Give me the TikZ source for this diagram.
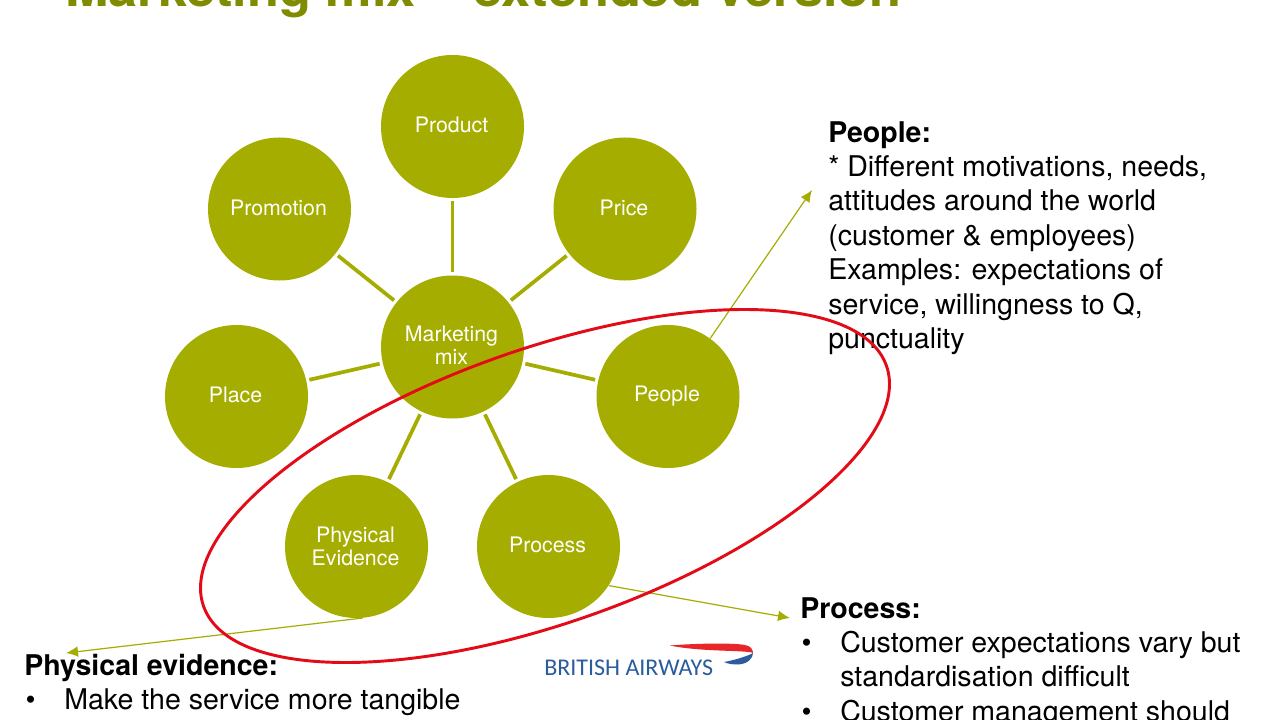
\documentclass[tikz,border=0pt]{standalone}
\usepackage{fontspec}
\setmainfont{TeX Gyre Heros}
\newfontfamily\logofont{Carlito}
\definecolor{olive}{HTML}{A5AE00}
\definecolor{titleolive}{HTML}{7F8C00}
\definecolor{ringred}{HTML}{E30B17}
\definecolor{logoblue}{HTML}{2B5C9E}
\definecolor{logored}{HTML}{E8262A}
\newcommand{\pxu}{pt*0.75}
\usetikzlibrary{arrows.meta}
\tikzset{
  mixnode/.style={circle,fill=olive,draw=none,minimum size=143\pxu,inner sep=0pt,
    text=white,align=center,font=\fontsize{16}{17.2}\selectfont},
  spoke/.style={draw=olive,line width=2.8pt,shorten >=3\pxu,shorten <=3\pxu},
  callout/.style={draw=olive,line width=0.9pt,-{Latex[length=9pt,width=8pt]}},
  bodytext/.style={anchor=north west,inner sep=0pt,align=left,text=black,
    font=\fontsize{21.4}{25.8}\selectfont},
}
\newcommand{\bul}{\makebox[30pt][l]{\hspace{1pt}•}}
\newcommand{\hang}{\makebox[30pt]{}}
\newcommand{\up}[2][2.4pt]{\raisebox{#1}{\hspace{-1.5pt}#2}}
\begin{document}
\begin{tikzpicture}[x=0.75pt,y=-0.75pt]
\useasboundingbox (0,0) rectangle (1280,720);
\clip (0,0) rectangle (1280,720);
\fill[white] (0,0) rectangle (1280,720);

% Heading, cut by the top edge of the slide
\node[anchor=base west,inner sep=0pt,text=titleolive,font=\fontsize{39.2}{42}\selectfont\bfseries]
  (heading) at (65,7) {Marketing mix -- extended version};

% The eight circles
\node[mixnode] (product)  at (452.5,126.5) {\up{Product}};
\node[mixnode] (promo)    at (279.5,209) {\up{Promotion}};
\node[mixnode] (price)    at (625,209) {\up{Price}};
\node[mixnode] (mix)      at (452.5,347) {\up{Marketing}\\\up{mix}};
\node[mixnode] (place)    at (236.5,396.5) {\up{Place}};
\node[mixnode] (people)   at (668,396.5) {\up[-0.7pt]{People}};
\node[mixnode] (physical) at (356.5,546.5) {\up[0.8pt]{Physical}\\\up[0.8pt]{Evidence}};
\node[mixnode] (process)  at (548.5,546.5) {\up{Process}};

% Spokes from the centre
\foreach \n in {product,promo,price,place,people,physical,process}
  \draw[spoke] (mix) -- (\n);

% Callout arrows
\coordinate (peopleEnd) at (812,190);
\coordinate (processEnd) at (790,618);
\coordinate (physicalEnd) at (66,653);
\draw[callout] (people.54) -- (peopleEnd);
\draw[callout] (process.-33) -- (processEnd);
\draw[callout] (physical.-85) -- (physicalEnd);

% Text blocks
\node[bodytext] (peopleText) at (828,121) {\textbf{People:}\\
  * Different motivations, needs,\\
  attitudes around the world\\
  (customer \& employees)\\
  Examples: expectations of\\
  service, willingness to Q,\\
  punctuality};
\node[bodytext] (processText) at (800,597) {\textbf{Process:}\\
  \bul Customer expectations vary but\\
  \hang standardisation difficult\\
  \bul Customer management should};
\node[bodytext] (physicalText) at (24,654) {\textbf{Physical evidence:}\\
  \bul Make the service more tangible};

% Airline logo
\node[anchor=base west,inner sep=0pt,text=logoblue,font=\logofont\fontsize{18}{19}\selectfont]
  (logo) at (544,675.5) {BRITISH AIRWAYS};
\fill[logored] (670,645.5) .. controls (700,643) and (735,643) .. (745,645)
  .. controls (751,646) and (753,650) .. (753,653)
  .. controls (748,650) and (700,652) .. (670,645.5) -- cycle;
\fill[logoblue] (724,662) .. controls (735,660) and (748,656) .. (753,653)
  .. controls (753,658) and (748,664) .. (738,664.5)
  .. controls (733,664.5) and (728,664) .. (724,662) -- cycle;

% Red ring drawn over the circles
\draw[ringred,line width=2.2pt,rotate around={19.4:(545,486)}] (545,486) ellipse (362 and 137);
\end{tikzpicture}
\end{document}
